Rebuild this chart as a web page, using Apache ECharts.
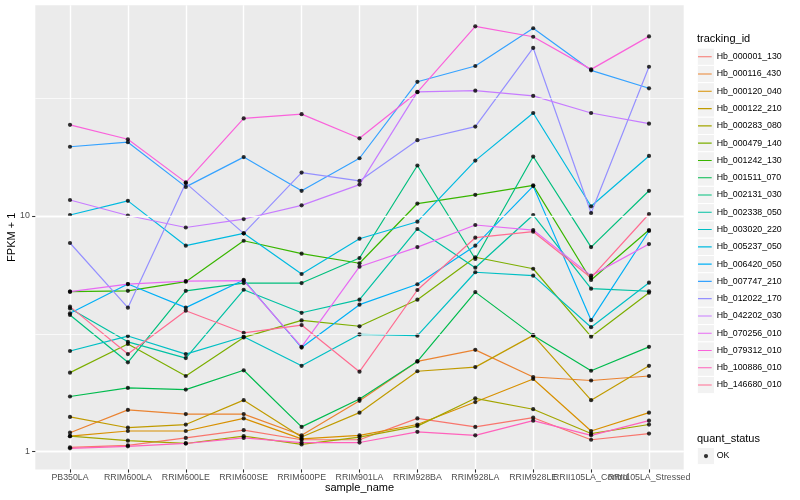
<!DOCTYPE html>
<html><head><meta charset="utf-8">
<script src="https://cdn.jsdelivr.net/npm/echarts@6/dist/echarts.min.js"></script>
<style>html,body{margin:0;padding:0;background:#fff}#c{width:800px;height:500px}</style>
</head><body><div id="c"></div>
<script>
const categories = ['PB350LA','RRIM600LA','RRIM600LE','RRIM600SE','RRIM600PE','RRIM901LA','RRIM928BA','RRIM928LA','RRIM928LE','RRII105LA_Control','RRII105LA_Stressed'];

const Hb_000001_130 = [1.04,1.06,1.14,1.23,1.12,1.12,1.38,1.27,1.39,1.12,1.19];
const Hb_000116_430 = [1.20,1.50,1.44,1.44,1.17,1.64,2.41,2.70,2.07,2.00,2.09];
const Hb_000120_040 = [1.16,1.22,1.22,1.38,1.13,1.17,1.30,1.62,2.03,1.22,1.46];
const Hb_000122_210 = [1.40,1.26,1.30,1.65,1.15,1.46,2.19,2.28,3.11,1.65,2.31];
const Hb_000283_080 = [1.16,1.11,1.08,1.16,1.07,1.15,1.28,1.68,1.51,1.19,1.30];
const Hb_000479_140 = [2.16,2.86,2.09,3.05,3.60,3.40,4.41,6.68,5.97,3.07,4.72];
const Hb_001242_130 = [4.77,4.81,5.26,7.85,6.92,6.30,11.3,12.3,13.5,5.35,8.72];
const Hb_001511_070 = [1.71,1.86,1.83,2.21,1.27,1.67,2.41,4.75,3.11,2.20,2.78];
const Hb_002131_030 = [3.80,2.39,4.81,5.19,5.19,6.63,16.4,6.57,17.9,7.38,12.8];
const Hb_002338_050 = [4.05,2.92,2.49,4.86,3.88,4.41,8.81,6.03,10.1,4.91,4.79];
const Hb_003020_220 = [2.67,3.09,2.59,3.07,2.31,3.14,3.10,5.77,5.58,3.37,5.21];
const Hb_005237_050 = [10.1,11.6,7.48,8.44,5.67,8.01,9.46,17.2,27.4,11.0,18.0];
const Hb_006420_050 = [3.86,5.14,4.08,5.35,2.76,4.20,5.13,7.48,13.4,3.61,8.64];
const Hb_007747_210 = [19.7,20.6,13.3,17.8,12.8,17.6,37.2,43.4,62.8,41.6,34.9];
const Hb_012022_170 = [7.68,4.08,13.8,8.44,15.3,14.1,21.0,24.0,51.8,10.3,43.1];
const Hb_042202_030 = [11.7,10.05,8.94,9.71,11.1,13.6,33.7,34.1,32.4,27.4,24.7];
const Hb_070256_010 = [4.77,5.14,5.29,5.32,2.78,6.09,7.38,9.16,8.72,5.58,7.60];
const Hb_079312_010 = [24.4,21.2,13.9,26.0,27.1,21.4,33.6,64.0,57.8,42.0,58.0];
const Hb_100886_010 = [1.03,1.05,1.08,1.14,1.09,1.09,1.21,1.17,1.35,1.17,1.35];
const Hb_146680_010 = [4.12,2.59,3.96,3.19,3.44,2.18,4.85,8.09,8.58,5.47,10.2];

const trackingIds = ['Hb_000001_130','Hb_000116_430','Hb_000120_040','Hb_000122_210','Hb_000283_080','Hb_000479_140','Hb_001242_130','Hb_001511_070','Hb_002131_030','Hb_002338_050','Hb_003020_220','Hb_005237_050','Hb_006420_050','Hb_007747_210','Hb_012022_170','Hb_042202_030','Hb_070256_010','Hb_079312_010','Hb_100886_010','Hb_146680_010'];
const seriesValues = [Hb_000001_130,Hb_000116_430,Hb_000120_040,Hb_000122_210,Hb_000283_080,Hb_000479_140,Hb_001242_130,Hb_001511_070,Hb_002131_030,Hb_002338_050,Hb_003020_220,Hb_005237_050,Hb_006420_050,Hb_007747_210,Hb_012022_170,Hb_042202_030,Hb_070256_010,Hb_079312_010,Hb_100886_010,Hb_146680_010];
const colors = ['#F8766D','#EA8331','#D89000','#C09B00','#A3A500','#7CAE00','#39B600','#00BB4E','#00BF7D','#00C1A3','#00BFC4','#00BAE0','#00B0F6','#35A2FF','#9590FF','#C77CFF','#E76BF3','#FA62DB','#FF62BC','#FF6C91'];
const statusNames = ['OK'];
const yTicks = [1, 10];
const yMinor = [3.1623, 31.623];
const yMin = 0.838, yMax = 78.7;

const FONT = '"Liberation Sans", Arial, Helvetica, sans-serif';
const P = {left:35.3, right:683.7, top:5.2, bottom:469.4};
const X0 = 70, X1 = 649;
const TICK = 3.2;

const chart = echarts.init(document.getElementById('c'), null, {renderer:'canvas'});

const lineSeries = trackingIds.map((id,k)=>({
  type:'line', name:id, xAxisIndex:1, yAxisIndex:1, data:seriesValues[k],
  showSymbol:false, symbol:'none', color:colors[k],
  lineStyle:{width:1.2, color:colors[k]}, silent:true, animation:false, z:2
}));
const pts = [];
seriesValues.forEach(vals=>vals.forEach((v,i)=>pts.push([categories[i], v])));
const scatter = {type:'scatter', name:statusNames[0], xAxisIndex:1, yAxisIndex:1, data:pts,
  symbol:'circle', symbolSize:4.2, itemStyle:{color:'#000'}, z:3, silent:true, animation:false};
// gridlines (major + minor) drawn with the background grid's log scale
const gridSeries = {type:'line', xAxisIndex:0, yAxisIndex:0, data:[[0,1]], showSymbol:false, symbol:'none',
  lineStyle:{opacity:0}, silent:true, animation:false, z:1,
  markLine:{silent:true, symbol:'none', animation:false, label:{show:false},
    data: yTicks.map(v=>[{coord:[0, v], lineStyle:{color:'#fff', width:1.4, type:'solid'}}, {coord:[1, v]}])
      .concat(yMinor.map(v=>({yAxis:v, lineStyle:{color:'#fff', width:0.7, type:'solid'}})))}};
// y tick marks, in a thin grid just left of the panel sharing the same log scale
const tickSeries = {type:'line', xAxisIndex:2, yAxisIndex:2, data:[[0,1]], showSymbol:false, symbol:'none',
  lineStyle:{opacity:0}, silent:true, animation:false, z:1,
  markLine:{silent:true, symbol:'none', animation:false, label:{show:false},
    data: yTicks.map(v=>[{coord:[0, v], lineStyle:{color:'#333', width:1.07, type:'solid'}}, {coord:[1, v]}])}};

const keyW = 17.28;
const graphics = [
  {type:'rect', shape:{x:P.left, y:P.top, width:P.right-P.left, height:P.bottom-P.top}, style:{fill:'#EBEBEB'}, z:-100, silent:true},
  {type:'text', x:(P.left+P.right)/2, y:488, style:{text:'sample_name', font:'11px '+FONT, fill:'#000', align:'center', verticalAlign:'middle'}},
  {type:'text', x:12, y:(P.top+P.bottom)/2, rotation:Math.PI/2, style:{text:'FPKM + 1', font:'11px '+FONT, fill:'#000', align:'center', verticalAlign:'middle'}},
  {type:'text', x:697, y:38.5, style:{text:'tracking_id', font:'11px '+FONT, fill:'#000', align:'left', verticalAlign:'middle'}},
  {type:'text', x:697, y:439, style:{text:'quant_status', font:'11px '+FONT, fill:'#000', align:'left', verticalAlign:'middle'}}
];
trackingIds.forEach((id,i)=>graphics.push({type:'rect', shape:{x:697.3, y:48.1+i*keyW, width:keyW, height:keyW}, style:{fill:'#F2F2F2', stroke:'#fff', lineWidth:1}, z:-50, silent:true}));
graphics.push({type:'rect', shape:{x:697.3, y:447.4, width:keyW, height:keyW}, style:{fill:'#F2F2F2', stroke:'#fff', lineWidth:1}, z:-50, silent:true});

const lineIcon = 'path://M0,0 L0.01,0 L0.01,0.01 Z M0,8.1 L13.7,8.1 L13.7,9.2 L0,9.2 Z M13.69,17.27 L13.7,17.27 L13.7,17.28 Z';
const dotIcon = 'path://M0,0 L0.01,0 L0.01,0.01 Z M13.69,17.27 L13.7,17.27 L13.7,17.28 Z M5.9,8.64 A2.1,2.1 0 1 1 10.1,8.64 A2.1,2.1 0 1 1 5.9,8.64 Z';

chart.setOption({
  animation:false,
  backgroundColor:'#fff',
  graphic:graphics,
  grid:[
    {left:P.left, right:800-P.right, top:P.top, bottom:500-P.bottom, containLabel:false, show:false},
    {left:X0, right:800-X1, top:P.top, bottom:500-P.bottom, containLabel:false, show:false},
    {left:P.left-TICK, width:TICK, top:P.top, bottom:500-P.bottom, containLabel:false, show:false}
  ],
  xAxis:[
    {gridIndex:0, type:'value', min:0, max:1, show:false},
    {gridIndex:1, type:'category', data:categories, boundaryGap:false,
      axisLine:{show:false},
      axisTick:{show:true, length:TICK, interval:0, lineStyle:{color:'#333', width:1.07}},
      axisLabel:{interval:0, hideOverlap:false, color:'#4D4D4D', fontSize:8.8, fontFamily:FONT, margin:4},
      splitLine:{show:true, interval:0, lineStyle:{color:'#fff', width:1.4}}},
    {gridIndex:2, type:'value', min:0, max:1, show:false}
  ],
  yAxis:[
    {gridIndex:0, type:'log', logBase:10, min:yMin, max:yMax,
      axisLine:{show:false},
      axisTick:{show:false},
      axisLabel:{show:true, color:'#4D4D4D', fontSize:8.8, fontFamily:FONT, margin:5.5, showMinLabel:false, showMaxLabel:false,
        formatter:v=>(yTicks.some(t=>Math.abs(t-v)<1e-6*t)? String(v) : '')},
      splitLine:{show:true, showMinLine:false, showMaxLine:false, lineStyle:{color:'#fff', width:1.4}},
      minorTick:{show:false}, minorSplitLine:{show:false}},
    {gridIndex:1, type:'log', logBase:10, min:yMin, max:yMax, show:false},
    {gridIndex:2, type:'log', logBase:10, min:yMin, max:yMax, show:false}
  ],
  legend:[
    {data:trackingIds, orient:'vertical', left:698, top:48.1, padding:0, itemGap:0,
      itemWidth:13.7, itemHeight:keyW, icon:lineIcon, selectedMode:false,
      itemStyle:{borderWidth:0}, textStyle:{fontSize:8.8, color:'#000', fontFamily:FONT}},
    {data:statusNames, orient:'vertical', left:698, top:447.4, padding:0, itemGap:0,
      itemWidth:13.7, itemHeight:keyW, icon:dotIcon, selectedMode:false,
      itemStyle:{borderWidth:0}, textStyle:{fontSize:8.8, color:'#000', fontFamily:FONT}}
  ],
  series:[gridSeries, tickSeries].concat(lineSeries).concat([scatter])
});
</script>
</body></html>
